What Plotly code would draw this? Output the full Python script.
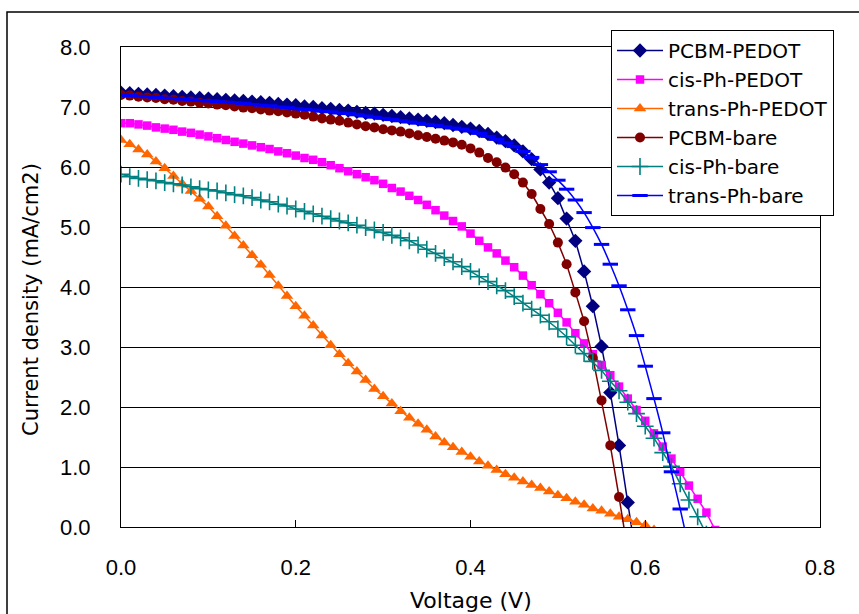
import plotly.graph_objects as go

# Voltage grid (V)
voltage = [0.00, 0.01, 0.02, 0.03, 0.04, 0.05, 0.06, 0.07, 0.08, 0.09,
           0.10, 0.11, 0.12, 0.13, 0.14, 0.15, 0.16, 0.17, 0.18, 0.19,
           0.20, 0.21, 0.22, 0.23, 0.24, 0.25, 0.26, 0.27, 0.28, 0.29,
           0.30, 0.31, 0.32, 0.33, 0.34, 0.35, 0.36, 0.37, 0.38, 0.39,
           0.40, 0.41, 0.42, 0.43, 0.44, 0.45, 0.46, 0.47, 0.48, 0.49,
           0.50, 0.51, 0.52, 0.53, 0.54, 0.55, 0.56, 0.57, 0.58, 0.59,
           0.60, 0.61, 0.62, 0.63, 0.64, 0.65, 0.66, 0.67, 0.68]

# Current density (mA/cm2)
pcbm_pedot = [7.24, 7.23, 7.22, 7.21, 7.20, 7.19, 7.18, 7.17, 7.16, 7.15,
              7.14, 7.13, 7.12, 7.11, 7.10, 7.09, 7.08, 7.07, 7.05, 7.04,
              7.03, 7.01, 7.00, 6.98, 6.97, 6.95, 6.94, 6.92, 6.90, 6.89,
              6.87, 6.85, 6.83, 6.81, 6.79, 6.77, 6.75, 6.73, 6.70, 6.67,
              6.64, 6.60, 6.55, 6.49, 6.43, 6.36, 6.26, 6.13, 5.96, 5.74,
              5.48, 5.14, 4.77, 4.26, 3.68, 3.01, 2.24, 1.36, 0.41, -0.55]

cis_ph_pedot = [6.73, 6.73, 6.71, 6.69, 6.66, 6.64, 6.62, 6.59, 6.57, 6.54,
                6.51, 6.48, 6.45, 6.42, 6.39, 6.36, 6.33, 6.30, 6.26, 6.23,
                6.19, 6.15, 6.12, 6.08, 6.03, 5.98, 5.93, 5.88, 5.83, 5.78,
                5.72, 5.65, 5.59, 5.52, 5.45, 5.37, 5.28, 5.19, 5.10, 5.01,
                4.89, 4.77, 4.66, 4.56, 4.44, 4.33, 4.19, 4.03, 3.88, 3.73,
                3.57, 3.41, 3.23, 3.06, 2.88, 2.70, 2.53, 2.34, 2.14, 1.95,
                1.77, 1.56, 1.34, 1.14, 0.92, 0.69, 0.47, 0.24, -0.05]

trans_ph_pedot = [6.45, 6.38, 6.29, 6.21, 6.09, 5.98, 5.85, 5.72, 5.60, 5.47,
                  5.34, 5.18, 5.02, 4.85, 4.69, 4.53, 4.37, 4.20, 4.02, 3.85,
                  3.68, 3.52, 3.36, 3.19, 3.03, 2.88, 2.73, 2.59, 2.45, 2.30,
                  2.18, 2.06, 1.93, 1.82, 1.72, 1.62, 1.51, 1.41, 1.33, 1.25,
                  1.17, 1.09, 1.02, 0.95, 0.88, 0.82, 0.76, 0.70, 0.65, 0.59,
                  0.53, 0.48, 0.42, 0.37, 0.31, 0.27, 0.22, 0.17, 0.13, 0.08,
                  0.03, -0.05, -0.14]

pcbm_bare = [7.20, 7.19, 7.17, 7.16, 7.15, 7.13, 7.12, 7.10, 7.09, 7.07,
             7.06, 7.04, 7.03, 7.01, 6.99, 6.98, 6.96, 6.94, 6.93, 6.91,
             6.89, 6.87, 6.84, 6.81, 6.79, 6.77, 6.74, 6.71, 6.68, 6.66,
             6.63, 6.61, 6.59, 6.56, 6.53, 6.50, 6.47, 6.44, 6.41, 6.37,
             6.31, 6.24, 6.15, 6.08, 5.99, 5.88, 5.74, 5.55, 5.30, 5.05,
             4.74, 4.38, 3.91, 3.43, 2.82, 2.11, 1.36, 0.50, -0.40]

cis_ph_bare = [5.88, 5.84, 5.81, 5.79, 5.77, 5.74, 5.72, 5.70, 5.67, 5.64,
               5.62, 5.60, 5.57, 5.54, 5.52, 5.49, 5.45, 5.42, 5.38, 5.35,
               5.30, 5.26, 5.22, 5.18, 5.14, 5.10, 5.07, 5.03, 4.99, 4.95,
               4.91, 4.86, 4.82, 4.77, 4.70, 4.63, 4.56, 4.49, 4.42, 4.34,
               4.26, 4.17, 4.09, 4.02, 3.94, 3.84, 3.73, 3.63, 3.53, 3.42,
               3.30, 3.17, 3.03, 2.89, 2.76, 2.61, 2.43, 2.27, 2.08, 1.89,
               1.68, 1.48, 1.24, 1.01, 0.72, 0.45, 0.17, -0.12]

trans_ph_bare = [7.20, 7.19, 7.18, 7.17, 7.16, 7.15, 7.14, 7.13, 7.12, 7.11,
                 7.10, 7.09, 7.08, 7.07, 7.06, 7.04, 7.03, 7.02, 7.00, 6.99,
                 6.97, 6.96, 6.95, 6.93, 6.92, 6.90, 6.89, 6.87, 6.85, 6.83,
                 6.81, 6.79, 6.77, 6.75, 6.73, 6.71, 6.69, 6.67, 6.65, 6.63,
                 6.60, 6.56, 6.51, 6.46, 6.40, 6.34, 6.26, 6.16, 6.04, 5.92,
                 5.78, 5.63, 5.45, 5.24, 4.99, 4.71, 4.38, 4.02, 3.62, 3.19,
                 2.68, 2.14, 1.57, 0.92, 0.30, -0.35]

x_ticks = [0.0, 0.2, 0.4, 0.6, 0.8]
y_ticks = [0, 1, 2, 3, 4, 5, 6, 7, 8]

series = [
    ("PCBM-PEDOT", pcbm_pedot, "#000080", "diamond", 11, 0, "linear"),
    ("cis-Ph-PEDOT", cis_ph_pedot, "#FF00FF", "square", 8.5, 0, "linear"),
    ("trans-Ph-PEDOT", trans_ph_pedot, "#FF6600", "triangle-up", 11, 0, "linear"),
    ("PCBM-bare", pcbm_bare, "#800000", "circle", 10, 0, "linear"),
    ("cis-Ph-bare", cis_ph_bare, "#008080", "cross-thin", 12, 1.6, "linear"),
    ("trans-Ph-bare", trans_ph_bare, "#0000FF", "line-ew", 11, 3, "spline"),
]

fig = go.Figure()
for name, vals, color, sym, size, lw, shape in series:
    marker = dict(symbol=sym, size=size, color=color)
    if lw:
        marker["line"] = dict(color=color, width=lw)
    fig.add_trace(go.Scatter(
        x=voltage[:len(vals)], y=vals, name=name, mode="lines+markers",
        line=dict(color=color, width=1.5, shape=shape),
        marker=marker,
    ))

W, H = 859, 614
L, R, T, B = 121, 820, 47, 527
pw, ph = R - L, B - T

def px_x(px):
    return (px - L) / pw

def px_y(py):
    return (B - py) / ph

tickfont = dict(family="Liberation Sans, Arial, sans-serif", size=22, color="black")

fig.update_layout(
    width=W, height=H,
    margin=dict(l=L, r=W - R, t=T, b=H - B, pad=0),
    paper_bgcolor="white", plot_bgcolor="white",
    showlegend=True,
    legend=dict(
        x=px_x(611), y=px_y(30), xanchor="left", yanchor="top",
        bgcolor="white", bordercolor="black", borderwidth=1,
        font=dict(family="DejaVu Sans, sans-serif", size=20, color="black"),
        itemwidth=46,
    ),
    xaxis=dict(
        range=[0, 0.8], tickvals=x_ticks, ticktext=[f"{v:.1f}" for v in x_ticks],
        showgrid=False, zeroline=False, showline=True, linecolor="black",
        linewidth=1, mirror=True, ticks="inside", ticklen=7, tickcolor="black",
        tickfont=tickfont, ticklabelstandoff=21,
    ),
    yaxis=dict(
        range=[0, 8], tickvals=y_ticks, ticktext=[f"{v:.1f}" for v in y_ticks],
        showgrid=True, gridcolor="black", gridwidth=1, zeroline=False,
        showline=True, linecolor="black", linewidth=1, mirror=True,
        ticks="inside", ticklen=7, tickcolor="black",
        tickfont=tickfont, ticklabelstandoff=25,
    ),
    shapes=[dict(type="rect", xref="paper", yref="paper",
                 x0=px_x(7), x1=px_x(866), y0=px_y(640), y1=px_y(12),
                 line=dict(color="black", width=1.5), layer="below")],
    annotations=[
        dict(text="Current density (mA/cm2)", xref="paper", yref="paper",
             x=px_x(31), y=px_y(300), textangle=-90, showarrow=False,
             xanchor="center", yanchor="middle",
             font=dict(family="DejaVu Sans, sans-serif", size=21, color="black")),
        dict(text="Voltage (V)", xref="paper", yref="paper",
             x=px_x(471), y=px_y(600), showarrow=False,
             xanchor="center", yanchor="middle",
             font=dict(family="DejaVu Sans, sans-serif", size=22, color="black")),
    ],
)

fig.write_html("out.html")
